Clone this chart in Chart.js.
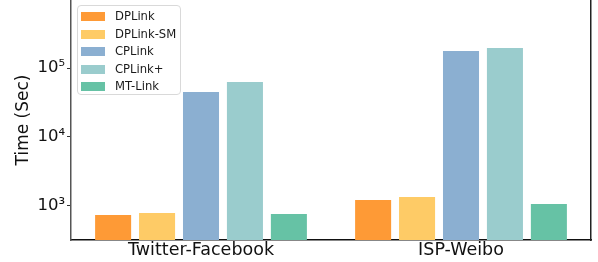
<!DOCTYPE html>
<html lang="en">
<head>
<meta charset="UTF-8">
<title>Time (Sec)</title>
<script src="https://cdn.jsdelivr.net/npm/chart.js"></script>
<style>
    body { margin: 0; background: #fff; }
    .wrap { position: relative; width: 598px; height: 262px; }
    .wrap canvas { display: block; }
    .legenda {
        position: absolute; left: 77px; top: 5px; width: 104px; height: 90px;
        border: 1px solid #d9d9d9; border-radius: 4px; background: rgba(255,255,255,0.85);
        box-sizing: border-box; font-family: 'DejaVu Sans'; font-size: 11.6px; color: #1a1a1a;
    }
    .item { position: absolute; left: 3px; height: 17px; }
    .cor { position: absolute; left: 0; top: 4px; width: 24px; height: 9px; }
    .nome { position: absolute; left: 34px; top: 0; line-height: 17px; white-space: nowrap; }
</style>
</head>
<body>
<div class="wrap">
    <canvas id="grafico" width="598" height="262"></canvas>
    <div class="legenda" id="legenda"></div>
</div>
<script>
    // dados
    const categorias = ['Twitter-Facebook', 'ISP-Weibo'];
    const metodos = ['DPLink', 'DPLink-SM', 'CPLink', 'CPLink+', 'MT-Link'];
    const dplink = [740, 1220];
    const dplinkSM = [790, 1350];
    const cplink = [44900, 176000];
    const cplinkMais = [62700, 195000];
    const mtlink = [765, 1070];
    const cores = ['#fe9a36', '#fecb66', '#8bafd1', '#9acccd', '#66c2a5'];
    const ticksY = [1e3, 1e4, 1e5];
    const rotulosY = { 1000: '10³', 10000: '10⁴', 100000: '10⁵' };

    const series = [dplink, dplinkSM, cplink, cplinkMais, mtlink];

    // legenda em html dentro da area do grafico
    const legenda = document.getElementById('legenda');
    metodos.forEach((m, i) => {
        const item = document.createElement('div');
        item.className = 'item';
        item.style.top = (2 + i * 17.5) + 'px';
        item.innerHTML = `<div class="cor" style="background:${cores[i]}"></div><div class="nome">${m}</div>`;
        legenda.appendChild(item);
    });

    new Chart(document.getElementById('grafico'), {
        type: 'bar',
        data: {
            labels: categorias,
            datasets: series.map((d, i) => ({
                label: metodos[i],
                data: d,
                backgroundColor: cores[i],
                categoryPercentage: 0.845,
                barPercentage: 0.82
            }))
        },
        options: {
            responsive: false,
            animation: false,
            layout: { padding: 0 },
            plugins: { legend: { display: false }, tooltip: { enabled: false } },
            scales: {
                x: {
                    grid: { display: false, drawTicks: false },
                    border: { color: '#111', width: 1.5 },
                    ticks: { color: '#111', font: { family: 'DejaVu Sans', size: 17.5 }, padding: 0, maxRotation: 0 },
                    afterFit: (s) => { s.height = 22; s.paddingLeft = 0; s.paddingRight = 0; }
                },
                y: {
                    type: 'logarithmic',
                    min: 321,
                    max: 968000,
                    afterBuildTicks: (s) => { s.ticks = ticksY.map(v => ({ value: v })); },
                    grid: { drawOnChartArea: false, tickLength: 4, color: '#333' },
                    border: { color: '#555', width: 1.5 },
                    ticks: {
                        color: '#111', font: { family: 'DejaVu Sans', size: 16.5 }, padding: 2,
                        callback: (v) => rotulosY[v] || ''
                    },
                    title: {
                        display: true, text: 'Time (Sec)', color: '#111',
                        font: { family: 'DejaVu Sans', size: 17 }, padding: { top: 13, bottom: 0 }
                    },
                    afterFit: (s) => { s.width = 71; s.paddingTop = 0; s.paddingBottom = 0; }
                },
                y2: {
                    position: 'right',
                    display: true,
                    grid: { display: false, drawTicks: false },
                    border: { color: '#222', width: 1.5 },
                    ticks: { display: false },
                    afterFit: (s) => { s.width = 7; s.paddingTop = 0; s.paddingBottom = 0; }
                }
            }
        }
    });
</script>
</body>
</html>
